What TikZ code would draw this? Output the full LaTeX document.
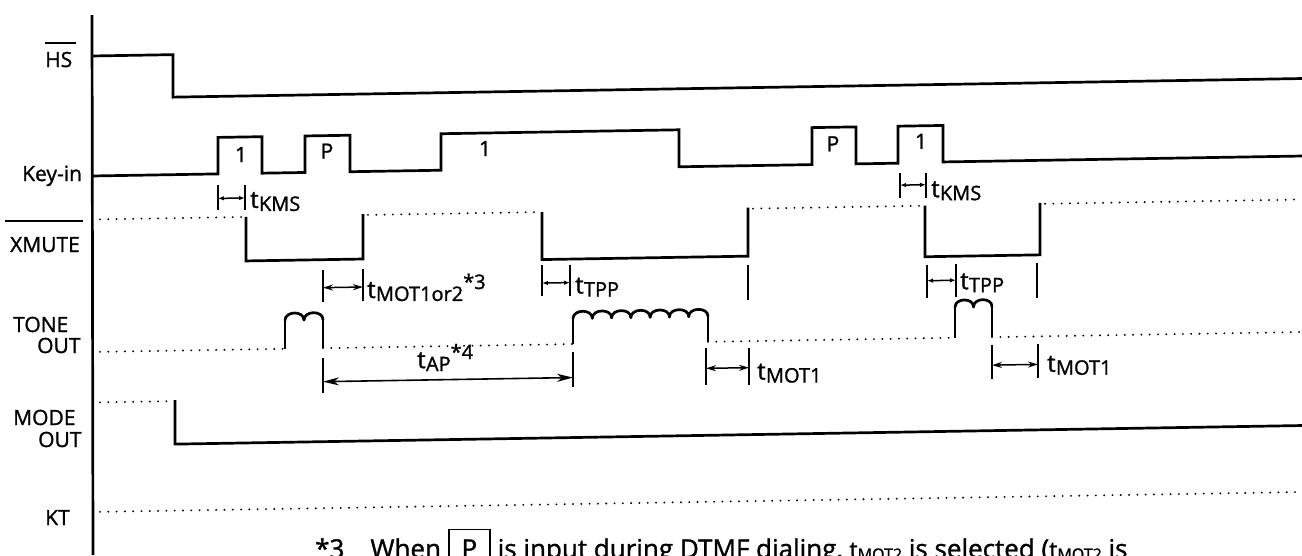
\documentclass[tikz,border=0pt]{standalone}
\usepackage{fontspec}
\setmainfont{Open Sans}[FakeBold=1.2]
\usetikzlibrary{arrows.meta}
\newcommand{\lbl}{\fontsize{21}{25}\selectfont}
\newcommand{\tdim}[1]{{\fontsize{24}{24}\selectfont t}\kern0.3pt\raisebox{-3pt}{\fontsize{20}{20}\selectfont #1}}
\newcommand{\sstar}[1]{\raisebox{9pt}{\fontsize{20}{20}\selectfont *#1}}
\newcommand{\bsub}[1]{{\fontsize{23}{23}\selectfont t}\raisebox{-2pt}{\fontsize{16}{16}\selectfont #1}}
\newcommand{\humps}[4]{%
  \foreach \k in {1,...,#4}{%
    \pgfmathsetmacro{\xa}{#1+(\k-1)*#3}%
    \pgfmathsetmacro{\xb}{#1+\k*#3}%
    \draw[sig,line cap=round] (\xa,#2) .. controls (\xa,#2-9.5) and (\xb,#2-9.5) .. (\xb,#2);
  }}
\begin{document}
\begin{tikzpicture}[x=1pt,y=-1pt,
  sig/.style={line width=2.7pt, line join=miter},
  dotl/.style={line width=2.1pt, line cap=round, dash pattern=on 0pt off 8.3pt},
  tk/.style={line width=2.3pt},
  dimS/.style={line width=1.5pt, {Latex[length=6pt,width=4.5pt]}-{Latex[length=6pt,width=4.5pt]}},
  dimM/.style={line width=1.5pt, {Stealth[length=10pt,width=6pt]}-{Stealth[length=10pt,width=6pt]}},
  dimL/.style={line width=1.6pt, {Stealth[length=16pt,width=8pt,inset=5pt]}-{Stealth[length=16pt,width=8pt,inset=5pt]}},
  lab/.style={font=\lbl, inner sep=0pt, anchor=base west},
  dlab/.style={inner sep=0pt, anchor=base west},
  plab/.style={font=\lbl, inner sep=0pt, anchor=base}
]
\useasboundingbox (0,0) rectangle (1302,555);
\clip (0,0) rectangle (1302,555);

% axis
\draw[line width=2.7pt] (92,15) -- (93,555);

% left labels
\node[lab] (hs) at (45,67) {HS};
\draw[line width=1.8pt] (45,43) -- (76,43);
\node[lab] (keyin) at (22,181) {Key-in};
\node[lab] (xmute) at (10,252) {XMUTE};
\draw[line width=1.8pt] (5,221) -- (83,221);
\node[lab] (tone) at (13,332) {TONE};
\node[lab] (tout) at (37,353) {OUT};
\node[lab] (mode) at (13,425) {MODE};
\node[lab] (mout) at (38,447) {OUT};
\node[lab] (kt) at (45,525) {KT};

\begin{scope}[yslant=0.0165]
% HS
\draw[sig] (92,57.5) -- (173,57.5) -- (173,100) -- (1302,100);

% Key-in
\draw[sig] (92,177.5) -- (218,177.5) -- (218,141) -- (262,141) -- (262,177.5)
  -- (305,177.5) -- (305,141) -- (350,141) -- (350,177.5) -- (441,177.5)
  -- (441,141) -- (679,141) -- (679,178) -- (812,178) -- (812,141) -- (856,141)
  -- (856,178) -- (898,178) -- (898,141) -- (943,141) -- (943,177.5) -- (1302,177.5);
\node[plab] (k1) at (241,166) {1};
\node[plab] (k2) at (327,164) {P};
\node[plab] (k3) at (485,164) {1};
\node[plab] (k4) at (833,165) {P};
\node[plab] (k5) at (921,164) {1};

% tKMS
\draw[tk] (218,189) -- (218,214); \draw[tk] (245,189) -- (245,214);
\draw[dimS] (218,202) -- (245,202);
\node[dlab] (tkms1) at (250,212) {\tdim{KMS}};
\draw[tk] (900,188) -- (900,213); \draw[tk] (926,188) -- (926,213);
\draw[dimS] (900,200) -- (926,200);
\node[dlab] (tkms2) at (931,212.5) {\tdim{KMS}};

% XMUTE
\draw[dotl] (100,221) -- (246,221);
\draw[sig] (246,221) -- (246,265) -- (363,265) -- (363,220);
\draw[dotl] (368,221) -- (542,221);
\draw[sig] (542,221) -- (542,268.5) -- (748,268.5) -- (748,220);
\draw[dotl] (753,221) -- (925,221);
\draw[sig] (925,221) -- (925,272) -- (1040,272) -- (1040,220);
\draw[dotl] (1045,221) -- (1302,221);

% XMUTE-row dimensions
\draw[tk] (323,275) -- (323,307); \draw[tk] (363,275) -- (363,307);
\draw[dimM] (323,293) -- (363,293);
\node[dlab] (tmot12) at (367,304) {\tdim{MOT1or2}\sstar{3}};
\draw[tk] (542,274) -- (542,305); \draw[tk] (570,274) -- (570,305);
\draw[dimS] (542,292) -- (570,292);
\node[dlab] (ttpp1) at (575,303) {\tdim{TPP}};
\draw[tk] (748,277) -- (748,312);
\draw[tk] (927,280) -- (927,313); \draw[tk] (956,280) -- (956,313);
\draw[dimS] (927,296) -- (956,296);
\node[dlab] (ttpp2) at (960,305) {\tdim{TPP}};
\draw[tk] (1037,280) -- (1037,315);

% TONE OUT
\draw[dotl] (100,353.5) -- (285,353.5);
\draw[sig] (285,353.5) -- (285,325);
\humps{285}{325}{19}{2}
\draw[sig] (323,325) -- (323,353.5);
\draw[dotl] (323,353.5) -- (573,353.5);
\draw[sig] (573,353.5) -- (573,328);
\humps{573}{328}{19.2857}{7}
\draw[sig] (708,328) -- (708,353.5);
\draw[dotl] (708,353.5) -- (955,353.5);
\draw[sig] (955,353.5) -- (955,323);
\humps{955}{323}{18.5}{2}
\draw[sig] (992,323) -- (992,353.5);
\draw[dotl] (992,353.5) -- (1302,353.5);

% tAP
\draw[tk] (323,363) -- (323,398); \draw[tk] (573,361) -- (573,396);
\draw[dimL] (323,387) -- (573,387);
\node[dlab] (tap) at (417,375) {\tdim{AP}\sstar{4}};

% tMOT1
\draw[tk] (706,360) -- (706,397); \draw[tk] (749,360) -- (749,397);
\draw[dimM] (706,380) -- (749,380);
\node[dlab] (tmot1a) at (757,392) {\tdim{MOT1}};
\draw[tk] (992,361) -- (992,395); \draw[tk] (1038,361) -- (1038,395);
\draw[dimM] (992,381.5) -- (1038,381.5);
\node[dlab] (tmot1b) at (1047,389) {\tdim{MOT1}};

% MODE OUT
\draw[dotl] (100,404) -- (175,404);
\draw[sig] (175,403) -- (175,447) -- (1302,447);

% KT
\draw[dotl] (100,513.5) -- (1302,513.5);
\end{scope}

% footnote (cut off at bottom, as in the reference)
\setlength{\fboxsep}{9pt}\setlength{\fboxrule}{1.8pt}
\node[anchor=base west, inner sep=0pt, font=\fontsize{26}{30}\selectfont] (note) at (315,558)
  {*3\hspace{26pt}When \fbox{\hspace{3pt}P\hspace{3pt}} is input during DTMF dialing, \bsub{MOT2} is selected (\bsub{MOT2} is};
\end{tikzpicture}
\end{document}
